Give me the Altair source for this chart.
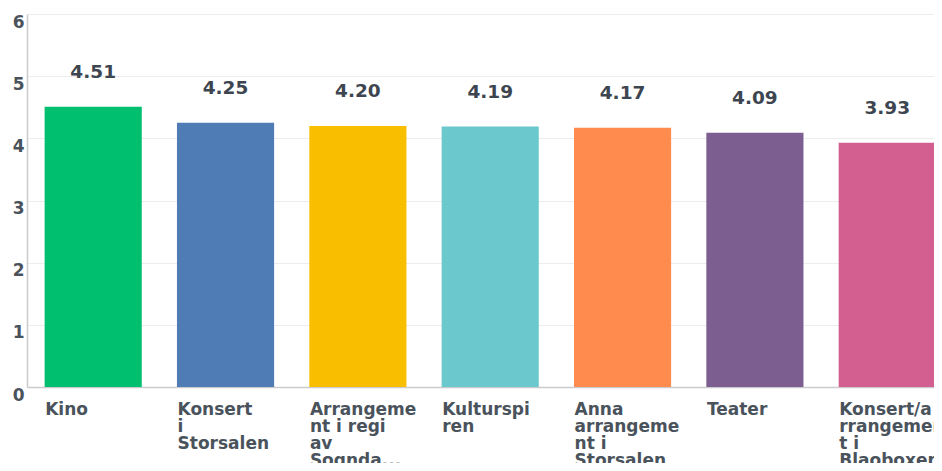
import altair as alt
import pandas as pd

label_lines = [
    ["Kino"],
    ["Konsert", "i", "Storsalen"],
    ["Arrangeme", "nt i regi", "av", "Sognda..."],
    ["Kulturspi", "ren"],
    ["Anna", "arrangeme", "nt i", "Storsalen"],
    ["Teater"],
    ["Konsert/a", "rrangemen", "t i", "Blaoboxen"],
]
values = [4.51, 4.25, 4.20, 4.19, 4.17, 4.09, 3.93]
colors = ["#00BF6F", "#507CB6", "#F9BE00", "#6BC8CD", "#FF8B4F", "#7D5E90", "#D25F90"]
y_ticks = [0, 1, 2, 3, 4, 5, 6]

cats = ["|".join(l) for l in label_lines]
df = pd.DataFrame({"cat": cats, "value": values})

FONT = "DejaVu Sans"

x = alt.X(
    "cat:N",
    sort=None,
    title=None,
    scale=alt.Scale(range=[0, 915], paddingInner=0.266, paddingOuter=0.09, align=0.74, round=False),
    axis=alt.Axis(
        labelExpr="split(datum.value, '|')",
        labelAngle=0,
        labelAlign="left",
        labelBaseline="top",
        labelOffset=-48,
        labelPadding=14,
        labelLineHeight=17,
        labelFontSize=17,
        labelFont=FONT,
        labelFontWeight="bold",
        labelColor="#4a535c",
        ticks=False,
        domainColor="#c9cbcc",
        domainWidth=1.5,
        grid=False,
        labelLimit=0,
    ),
)

y = alt.Y(
    "value:Q",
    title=None,
    scale=alt.Scale(domain=[0, 6], nice=False),
    axis=alt.Axis(
        values=y_ticks,
        format="d",
        labelBaseline="top",
        labelPadding=3,
        labelFontSize=17,
        labelFont=FONT,
        labelFontWeight="bold",
        labelColor="#4a535c",
        ticks=False,
        domainColor="#c9cbcc",
        domainWidth=1.5,
        gridColor="#ececec",
        gridWidth=1,
    ),
)

bars = alt.Chart(df).mark_bar().encode(
    x=x,
    y=y,
    color=alt.Color("cat:N", sort=None, scale=alt.Scale(domain=cats, range=colors), legend=None),
)

text = alt.Chart(df).mark_text(
    dy=-29, baseline="alphabetic", fontSize=18.5, fontWeight="bold", font=FONT, color="#3d4650"
).encode(
    x=alt.X("cat:N", sort=None),
    y="value:Q",
    text=alt.Text("value:Q", format=".2f"),
)

chart = (bars + text).properties(
    width=907,
    height=373,
    autosize=alt.AutoSizeParams(type="none"),
    padding={"left": 19, "top": 6, "right": 0, "bottom": 76},
).configure_view(stroke=None)

chart.save("out.html", embed_options={"renderer": "svg", "actions": False})
